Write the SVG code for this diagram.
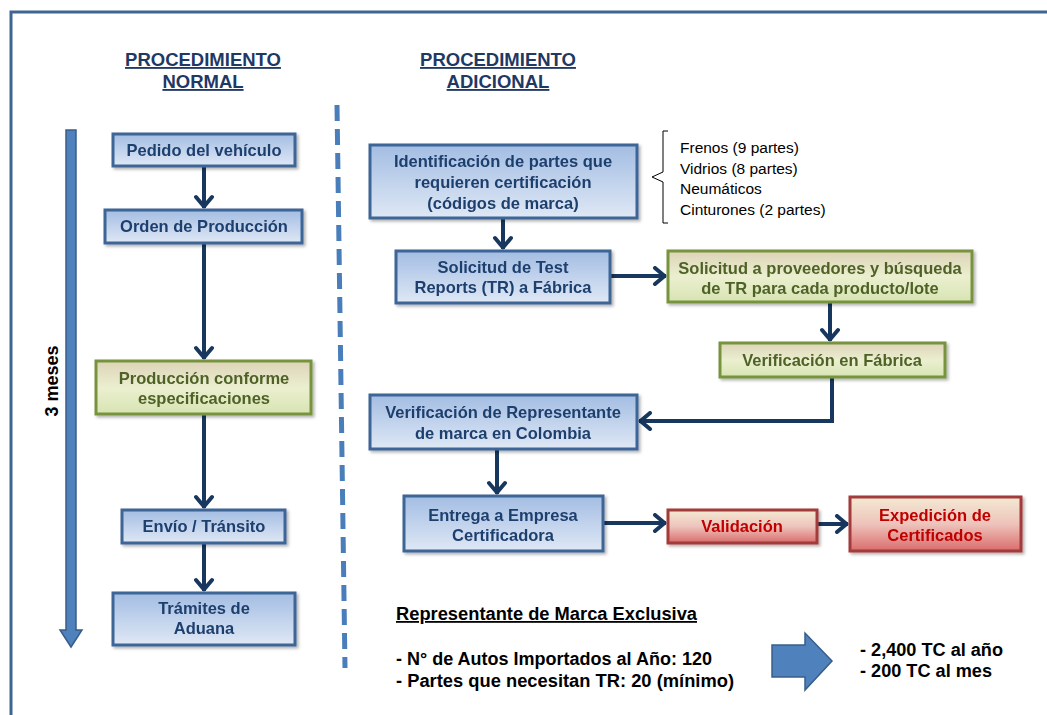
<svg xmlns="http://www.w3.org/2000/svg" width="1047" height="715" viewBox="0 0 1047 715">
<style>
.t{font-family:"Liberation Sans",Arial,sans-serif;font-weight:bold;font-size:16.5px;text-anchor:middle}
.tb{fill:#1f3f6e}
.tg{fill:#4f6228}
.tr{fill:#c00000}
.hd{font-family:"Liberation Sans",Arial,sans-serif;font-weight:bold;font-size:18.5px;text-anchor:middle;fill:#1f3864;text-decoration:underline}
.bx{stroke-width:3}
.blue{fill:url(#gb);stroke:#3c6596}
.green{fill:url(#gg);stroke:#77933c}
.red{fill:url(#gr);stroke:#a33b3b}
.c{fill:none;stroke:#17375e;stroke-width:4;marker-end:url(#ah)}
.lst{font-family:"Liberation Sans",Arial,sans-serif;font-size:15.5px;fill:#000}
.bt{font-family:"Liberation Sans",Arial,sans-serif;font-weight:bold;font-size:18px;fill:#000}
</style>
<defs>
<linearGradient id="gb" x1="0" y1="0" x2="0" y2="1"><stop offset="0" stop-color="#a3bde3"/><stop offset="1" stop-color="#dfe8f5"/></linearGradient>
<linearGradient id="gg" x1="0" y1="0" x2="0" y2="1"><stop offset="0" stop-color="#ddd3b8"/><stop offset="0.5" stop-color="#ebefcf"/><stop offset="1" stop-color="#d7e4b3"/></linearGradient>
<linearGradient id="gr" x1="0" y1="0" x2="0" y2="1"><stop offset="0" stop-color="#f3ead3"/><stop offset="0.5" stop-color="#eec3bb"/><stop offset="1" stop-color="#d96c6c"/></linearGradient>
<filter id="sh" x="-10%" y="-20%" width="130%" height="150%"><feDropShadow dx="2" dy="2" stdDeviation="1.5" flood-color="#000" flood-opacity="0.3"/></filter>
<marker id="ah" markerUnits="userSpaceOnUse" viewBox="-14 -10 16 20" refX="0" refY="0" markerWidth="16" markerHeight="20" orient="auto">
<path d="M-11,-8 L-1.5,0 L-11,8" fill="none" stroke="#17375e" stroke-width="4" stroke-linecap="round" stroke-linejoin="round"/>
</marker>
</defs>
<rect width="1047" height="715" fill="#fff"/>
<path d="M11,715 L11,12 L1047,12" fill="none" stroke="#3f6593" stroke-width="3"/>

<text class="hd" x="203" y="66">PROCEDIMIENTO</text>
<text class="hd" x="203" y="88">NORMAL</text>
<text class="hd" x="498" y="66">PROCEDIMIENTO</text>
<text class="hd" x="498" y="88">ADICIONAL</text>

<line x1="337" y1="105" x2="345" y2="668" stroke="#4a7ebb" stroke-width="5" stroke-dasharray="16 8"/>

<g id="timeline">
<path d="M66,130 L76,130 L76,630 L82,630 L71,647 L60,630 L66,630 Z" fill="#4f81bd" stroke="#385d8a" stroke-width="1.5"/>
<text class="bt" font-size="17" text-anchor="middle" transform="translate(58,381) rotate(-90)">3 meses</text>
</g>

<g id="connectors">
<path class="c" d="M204,166 L204,208"/>
<path class="c" d="M204,243 L204,359"/>
<path class="c" d="M204,414 L204,508"/>
<path class="c" d="M204,543 L204,591"/>
<path class="c" d="M503,218 L503,249"/>
<path class="c" d="M610,276 L666,276"/>
<path class="c" d="M830,302 L830,341"/>
<path class="c" d="M832,377 L832,421 L639,421"/>
<path class="c" d="M497,449 L497,494"/>
<path class="c" d="M603,523 L666,523"/>
<path class="c" d="M817,524 L848,524"/>
</g>

<g id="n1" filter="url(#sh)"><rect class="bx blue" x="113" y="134" width="182" height="32"/><text class="t tb" x="204" y="156">Pedido del vehículo</text></g>
<g id="n2" filter="url(#sh)"><rect class="bx blue" x="105" y="210" width="197" height="33"/><text class="t tb" x="204" y="232">Orden de Producción</text></g>
<g id="n3" filter="url(#sh)"><rect class="bx green" x="96" y="361" width="215" height="53"/><text class="t tg" x="204" y="384">Producción conforme</text><text class="t tg" x="204" y="404">especificaciones</text></g>
<g id="n4" filter="url(#sh)"><rect class="bx blue" x="122" y="510" width="163" height="33"/><text class="t tb" x="204" y="532">Envío / Tránsito</text></g>
<g id="n5" filter="url(#sh)"><rect class="bx blue" x="113" y="593" width="182" height="52"/><text class="t tb" x="204" y="614">Trámites de</text><text class="t tb" x="204" y="634">Aduana</text></g>

<g id="a1" filter="url(#sh)"><rect class="bx blue" x="370" y="145" width="267" height="73"/><text class="t tb" x="503" y="167">Identificación de partes que</text><text class="t tb" x="503" y="188">requieren certificación</text><text class="t tb" x="503" y="209">(códigos de marca)</text></g>
<g id="parts">
<path d="M668,131 L663,131 L663,172 L652,177 L663,182 L663,223 L668,223" fill="none" stroke="#000" stroke-width="1"/>
<text class="lst" x="680" y="153">Frenos (9 partes)</text>
<text class="lst" x="680" y="174">Vidrios (8 partes)</text>
<text class="lst" x="680" y="194">Neumáticos</text>
<text class="lst" x="680" y="215">Cinturones (2 partes)</text>
</g>
<g id="a2" filter="url(#sh)"><rect class="bx blue" x="396" y="251" width="214" height="52"/><text class="t tb" x="503" y="273">Solicitud de Test</text><text class="t tb" x="503" y="293">Reports (TR) a Fábrica</text></g>
<g id="a3" filter="url(#sh)"><rect class="bx green" x="668" y="251" width="304" height="51"/><text class="t tg" x="820" y="274">Solicitud a proveedores y búsqueda</text><text class="t tg" x="820" y="294">de TR para cada producto/lote</text></g>
<g id="a4" filter="url(#sh)"><rect class="bx green" x="720" y="343" width="225" height="34"/><text class="t tg" x="832" y="366">Verificación en Fábrica</text></g>
<g id="a5" filter="url(#sh)"><rect class="bx blue" x="370" y="395" width="267" height="54"/><text class="t tb" x="503" y="418">Verificación de Representante</text><text class="t tb" x="503" y="439">de marca en Colombia</text></g>
<g id="a6" filter="url(#sh)"><rect class="bx blue" x="404" y="496" width="199" height="55"/><text class="t tb" x="503" y="521">Entrega a Empresa</text><text class="t tb" x="503" y="541">Certificadora</text></g>
<g id="a7" filter="url(#sh)"><rect class="bx red" x="668" y="510" width="149" height="33"/><text class="t tr" x="742" y="532">Validación</text></g>
<g id="a8" filter="url(#sh)"><rect class="bx red" x="850" y="497" width="171" height="54"/><text class="t tr" x="935" y="521">Expedición de</text><text class="t tr" x="935" y="541">Certificados</text></g>

<g id="summary">
<text class="bt" x="396" y="620" text-decoration="underline" textLength="301" lengthAdjust="spacingAndGlyphs">Representante de Marca Exclusiva</text>
<text class="bt" x="396" y="665" textLength="316" lengthAdjust="spacingAndGlyphs">- N° de Autos Importados al Año: 120</text>
<text class="bt" x="396" y="687" textLength="338" lengthAdjust="spacingAndGlyphs">- Partes que necesitan TR: 20 (mínimo)</text>
<path d="M772,645 L805,645 L805,633 L832,661 L805,690 L805,677 L772,677 Z" fill="#4f81bd" stroke="#385d8a" stroke-width="1.5"/>
<text class="bt" x="860" y="656" textLength="143" lengthAdjust="spacingAndGlyphs">- 2,400 TC al año</text>
<text class="bt" x="860" y="677" textLength="132" lengthAdjust="spacingAndGlyphs">- 200 TC al mes</text>
</g>
</svg>
